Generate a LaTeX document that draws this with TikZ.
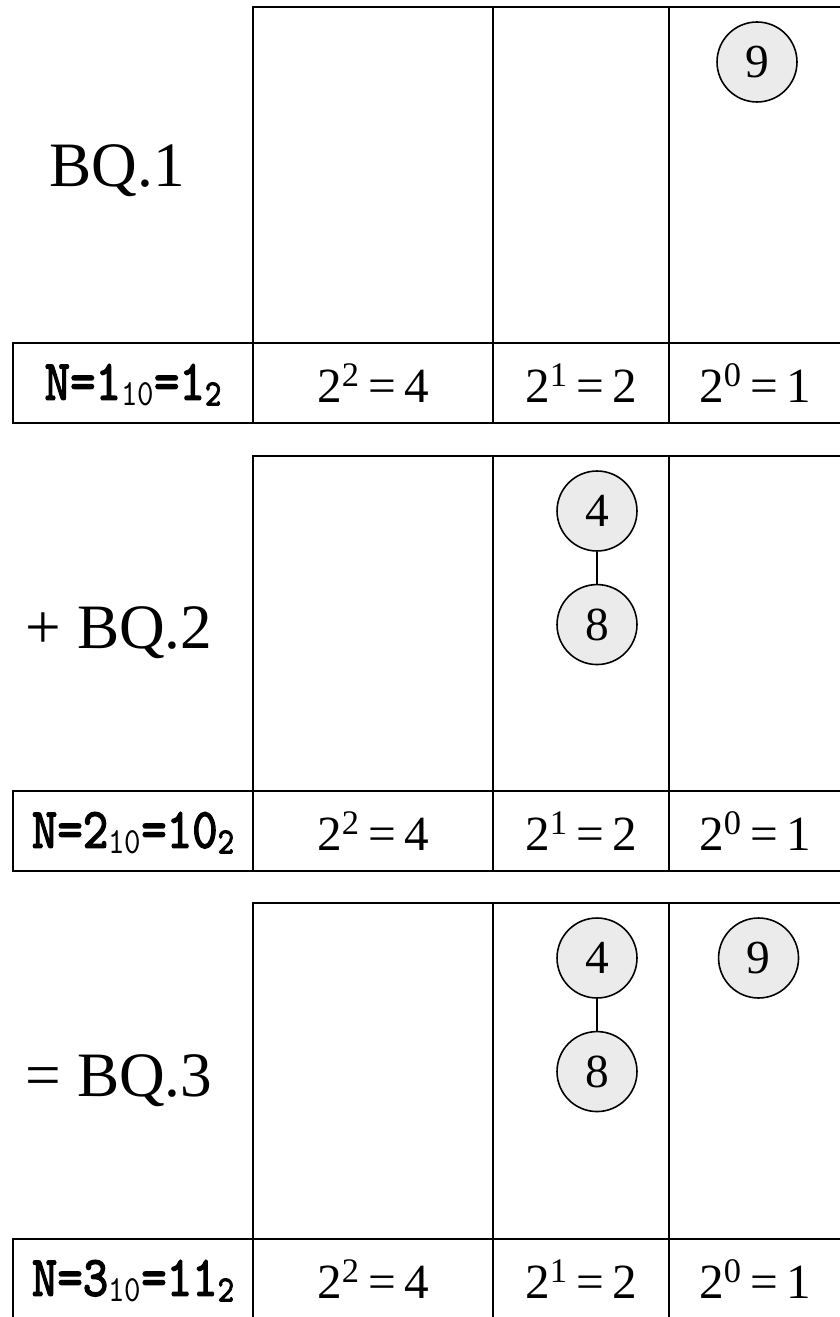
\documentclass[tikz,border=0pt]{standalone}
\usepackage{fontspec}
\setmainfont{Liberation Serif}
\newfontfamily\codefont[FakeBold=2.5]{lmmono10-regular.otf}
\newfontfamily\codelight{lmmono10-regular.otf}
\usepackage{graphicx}
\usetikzlibrary{positioning}

\tikzset{
  frame/.style={line width=1.2pt},
  bead/.style={circle, draw, line width=0.9pt, fill=black!8, minimum size=1.6cm,
    inner sep=0pt, font=\fontsize{27}{27}\selectfont},
  rod/.style={line width=0.9pt},
  weight/.style={font=\fontsize{28}{30}\selectfont},
  qlabel/.style={font=\fontsize{36}{40}\selectfont},
  nlabel/.style={font=\codefont\fontsize{32.5}{34}\selectfont},
}
% subscripts of the mono label
\newcommand{\nten}{\raisebox{-0.1em}{\codelight\fontsize{21}{21}\selectfont 10}}
\newcommand{\ntwo}{\raisebox{-0.1em}{\fontsize{21}{21}\selectfont 2}}

\begin{document}
\begin{tikzpicture}[x=0.02cm, y=-0.02cm]
  \useasboundingbox (0,0) rectangle (839,1317);
  \fill[white] (0,0) rectangle (839,1317);

  % --- Panel 1 ---
  \draw[frame] (253,423) -- (253,7) -- (841,7);
  \draw[frame] (493,7) -- (493,423);
  \draw[frame] (669,7) -- (669,423);
  \draw[frame] (13,343) rectangle (841,423);
  \node[qlabel] (q1) at (117,171) {BQ.1};
  \node[nlabel] (n1) at (133,385) {\scalebox{0.85}[1]{N=1\nten=1\ntwo}};
  \node[weight] (w1a) at (373,383) {2\textsuperscript{2}\,=\,4};
  \node[weight] (w1b) at (581,383) {2\textsuperscript{1}\,=\,2};
  \node[weight] (w1c) at (755,383) {2\textsuperscript{0}\,=\,1};
  \node[bead] (q1nine) at (757,62) {9};

  % --- Panel 2 ---
  \draw[frame] (253,871) -- (253,456) -- (841,456);
  \draw[frame] (493,456) -- (493,871);
  \draw[frame] (669,456) -- (669,871);
  \draw[frame] (13,791) rectangle (841,871);
  \node[qlabel] (q2) at (119,633) {+ BQ.2};
  \node[nlabel] (n2) at (133,833) {\scalebox{0.85}[1]{N=2\nten=10\ntwo}};
  \node[weight] (w2a) at (373,831) {2\textsuperscript{2}\,=\,4};
  \node[weight] (w2b) at (581,831) {2\textsuperscript{1}\,=\,2};
  \node[weight] (w2c) at (755,831) {2\textsuperscript{0}\,=\,1};
  \node[bead] (q2four) at (597,511) {4};
  \node[bead, below=0.64cm of q2four] (q2eight) {8};
  \draw[rod] (q2four) -- (q2eight);

  % --- Panel 3 ---
  \draw[frame] (253,1319) -- (253,903) -- (841,903);
  \draw[frame] (493,903) -- (493,1319);
  \draw[frame] (669,903) -- (669,1319);
  \draw[frame] (13,1239) rectangle (841,1319);
  \node[qlabel] (q3) at (119,1081) {= BQ.3};
  \node[nlabel] (n3) at (133,1281) {\scalebox{0.85}[1]{N=3\nten=11\ntwo}};
  \node[weight] (w3a) at (373,1279) {2\textsuperscript{2}\,=\,4};
  \node[weight] (w3b) at (581,1279) {2\textsuperscript{1}\,=\,2};
  \node[weight] (w3c) at (755,1279) {2\textsuperscript{0}\,=\,1};
  \node[bead] (q3four) at (597,958) {4};
  \node[bead, below=0.64cm of q3four] (q3eight) {8};
  \node[bead, right=1.6cm of q3four] (q3nine) {9};
  \draw[rod] (q3four) -- (q3eight);
\end{tikzpicture}
\end{document}
